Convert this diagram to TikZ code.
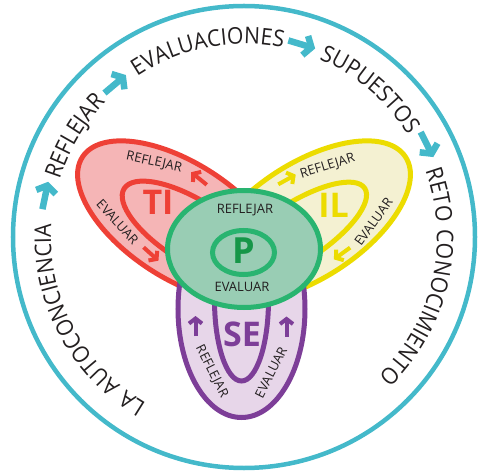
\documentclass[tikz,border=0pt]{standalone}
\usepackage{fontspec}
\setmainfont{Open Sans}
\newfontfamily\ringfamily{Open Sans}[FakeStretch=0.92]
\usetikzlibrary{arrows.meta}
\definecolor{ringteal}{RGB}{68,185,202}
\definecolor{ringtext}{RGB}{35,31,32}
\definecolor{redline}{RGB}{238,64,54}
\definecolor{redfill}{RGB}{245,181,182}
\definecolor{yellowline}{RGB}{236,220,0}
\definecolor{yellowfill}{RGB}{244,241,210}
\definecolor{purpleline}{RGB}{125,62,152}
\definecolor{purplefill}{RGB}{231,214,233}
\definecolor{greenline}{RGB}{41,180,112}
\definecolor{greenfill}{RGB}{153,205,180}
\definecolor{greentext}{RGB}{22,150,72}
\newcommand{\ringfont}{\ringfamily\fontsize{23}{27}\selectfont\color{ringtext}}
\newcommand{\ringsp}{\hspace*{7pt}}
\def\ringrad{193}
% #1 name, #2 centre angle, #3 letters, set clockwise round the ring
\newcommand{\ringword}[3]{%
  \begingroup\ringfont
  \gdef\ringtot{0}%
  \foreach \ch in {#3}{%
    \pgfmathwidth{"\ch"}\let\ringw\pgfmathresult
    \pgfmathsetmacro{\ringtmp}{\ringtot+\ringw}\global\let\ringtot\ringtmp}%
  \pgfmathsetmacro{\ringtmp}{#2+deg(\ringtot/\ringrad/2)}\global\let\ringcur\ringtmp
  \foreach \ch [count=\i] in {#3}{%
    \pgfmathwidth{"\ch"}\let\ringw\pgfmathresult
    \pgfmathsetmacro{\ringmid}{\ringcur-deg(\ringw/\ringrad/2)}%
    \pgfmathsetmacro{\ringtmp}{\ringcur-deg(\ringw/\ringrad)}\global\let\ringcur\ringtmp
    \node[ringletter, rotate=\ringmid-90] (#1-\i) at (\ringmid:\ringrad) {\ch};}%
  \endgroup}
\tikzset{
  ringletter/.style={inner sep=0pt, anchor=base, font=\ringfont},
  ringarrow/.style={draw=ringteal, line width=6.5pt, -{Straight Barb[length=6.5pt,width=20pt]}},
  smallarrow/.style={line width=4pt, -{Straight Barb[length=5pt,width=13pt]}},
  lbl/.style={font=\fontsize{13}{15}\selectfont, text=ringtext, inner sep=0pt},
  big/.style={font=\fontsize{34}{38}\selectfont\bfseries, inner sep=0pt},
  petal/.style={line width=5pt}
}

\begin{document}
\begin{tikzpicture}[x=1pt,y=1pt]
\useasboundingbox (-244,-233) rectangle (234,237);

% outer ring
\draw[ringteal, line width=4.5pt] (0,0) circle[radius=231];

% ring words
\ringword{auto}{207.9}{L,A,\ringsp,A,U,T,O,C,O,N,C,I,E,N,C,I,A}
\ringword{refl}{149.2}{R,E,F,L,E,J,A,R}
\ringword{eval}{101}{E,V,A,L,U,A,C,I,O,N,E,S}
\ringword{supu}{49.5}{S,U,P,U,E,S,T,O,S}
\ringword{reto}{-13}{R,E,T,O,\ringsp,C,O,N,O,C,I,M,I,E,N,T,O}

% ring arrows
\coordinate (ra1) at (168.2:203);
\coordinate (ra2) at (130.1:200);
\coordinate (ra3) at (73.3:201);
\coordinate (ra4) at (26.8:205);
\draw[ringarrow] (ra1) ++(258.2:14) -- ++(78.2:28);
\draw[ringarrow] (ra2) ++(220.1:14) -- ++(40.1:28);
\draw[ringarrow] (ra3) ++(163.3:14) -- ++(-16.7:28);
\draw[ringarrow] (ra4) ++(116.8:14) -- ++(-63.2:28);

% TI petal
\draw[petal, draw=redline, fill=redfill, rotate around={-33:(-63,16)}]
  (-63,16) ellipse[x radius=117.5, y radius=57.5];
\draw[petal, draw=redline, rotate around={-32:(-52,6)}]
  (-52,6) ellipse[x radius=80, y radius=31];

% IL petal
\draw[petal, draw=yellowline, fill=yellowfill, rotate around={33:(63,16)}]
  (63,16) ellipse[x radius=117.5, y radius=57.5];
\draw[petal, draw=yellowline, rotate around={33:(52,4)}]
  (52,4) ellipse[x radius=82, y radius=29];

% SE petal
\draw[petal, draw=purpleline, fill=purplefill]
  (-2.5,-72) ellipse[x radius=63.5, y radius=108.5];
\draw[petal, draw=purpleline]
  (-2.5,-63) ellipse[x radius=27, y radius=81];

% P centre
\draw[petal, draw=greenline, fill=greenfill]
  (0,-12) ellipse[x radius=76.5, y radius=58.5];
\draw[petal, draw=greenline]
  (-0.5,-15.5) ellipse[x radius=31, y radius=22];

% labels
\node[big, text=greentext, font=\fontsize{36}{40}\selectfont\bfseries] (p) at (-0.5,-14) {P};
\node[lbl] (p-ref) at (1,27) {REFLEJAR};
\node[lbl] (p-eva) at (-2,-50) {EVALUAR};

\node[big, text=redline] (ti) at (-86,34.5) {TI};
\node[lbl, rotate=-12] (ti-ref) at (-90,74.5) {REFLEJAR};
\node[lbl, rotate=-48] (ti-eva) at (-126.5,15) {EVALUAR};

\node[big, text=yellowline] (il) at (89.5,32) {IL};
\node[lbl, rotate=17] (il-ref) at (83.5,70.5) {REFLEJAR};
\node[lbl, rotate=54] (il-eva) at (129.5,15) {EVALUAR};

\node[big, text=purpleline] (se) at (-2,-97) {SE};
\node[lbl, rotate=-63] (se-ref) at (-32.5,-134.5) {REFLEJAR};
\node[lbl, rotate=63] (se-eva) at (27,-135.5) {EVALUAR};

% petal arrows
\coordinate (ta1) at (-45,58.5);
\coordinate (ta2) at (-93,-17);
\coordinate (ia1) at (43,57.5);
\coordinate (ia2) at (98,-16.5);
\coordinate (sa1) at (-48.5,-89);
\coordinate (sa2) at (42.5,-89.5);
\draw[smallarrow, redline] (ta1) ++(-39:10) -- ++(141:20);
\draw[smallarrow, redline] (ta2) ++(138:10) -- ++(-42:20);
\draw[smallarrow, yellowline] (ia1) ++(209:10) -- ++(29:20);
\draw[smallarrow, yellowline] (ia2) ++(36:10) -- ++(216:20);
\draw[smallarrow, purpleline] (sa1) ++(-90:10) -- ++(90:20);
\draw[smallarrow, purpleline] (sa2) ++(-90:10) -- ++(90:20);
\end{tikzpicture}
\end{document}
